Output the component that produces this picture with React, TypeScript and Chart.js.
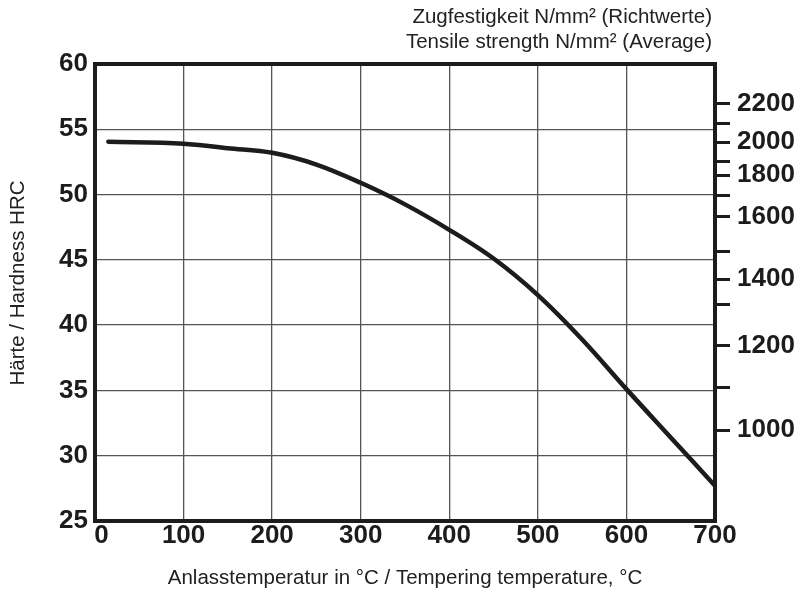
import React, { useEffect, useRef } from "react";
import { Chart, registerables } from "chart.js";

Chart.register(...registerables);

// Tempering temperature (°C) and hardness (HRC)
const temperatures = [15, 100, 150, 200, 250, 300, 350, 400, 450, 500, 550, 600, 650, 700];
const hardness = [54.05, 53.9, 53.55, 53.2, 52.3, 50.9, 49.25, 47.3, 45.1, 42.3, 38.9, 35.1, 31.4, 27.7];

// x axis ticks
const xTicks = [0, 100, 200, 300, 400, 500, 600, 700];
// left axis ticks (HRC)
const hrcTicks = [25, 30, 35, 40, 45, 50, 55, 60];

// right axis: tensile strength N/mm² and its position on the HRC scale
const tensileValues = [2200, 2100, 2000, 1900, 1800, 1700, 1600, 1500, 1400, 1300, 1200, 1100, 1000];
const tensileAtHrc = [56.95, 55.48, 54.01, 52.5, 51.48, 49.93, 48.3, 45.61, 43.53, 41.55, 38.44, 35.19, 31.96];
const tensileLabelled = [2200, 2000, 1800, 1600, 1400, 1200, 1000];

const titleTop1 = "Zugfestigkeit N/mm\u00B2 (Richtwerte)";
const titleTop2 = "Tensile strength N/mm\u00B2 (Average)";
const titleLeft = "H\u00E4rte / Hardness HRC";
const titleBottom = "Anlasstemperatur in \u00B0C / Tempering temperature, \u00B0C";

const FONT = '"Liberation Sans", Arial, sans-serif';
const DARK = "#1c1c1c";
const TICK_FONT = { family: FONT, size: 26, weight: "bold", lineHeight: 1.0 };

export default function App() {
  const ref = useRef<HTMLCanvasElement | null>(null);

  useEffect(() => {
    document.body.style.margin = "0";
    const canvas = ref.current!;
    const titlesPlugin = {
      id: "titles",
      afterDraw(chart: any) {
        const ctx = chart.ctx;
        const ca = chart.chartArea;
        ctx.save();
        // frame
        ctx.strokeStyle = DARK;
        ctx.lineWidth = 4;
        ctx.strokeRect(ca.left, ca.top, ca.right - ca.left, ca.bottom - ca.top);
        ctx.fillStyle = "#222";
        ctx.font = `20.5px ${FONT}`;
        ctx.textBaseline = "middle";
        ctx.textAlign = "right";
        ctx.fillText(titleTop1, 712, 17);
        ctx.fillText(titleTop2, 712, 42);
        ctx.textAlign = "center";
        ctx.fillText(titleBottom, 405, 578);
        ctx.translate(18, 283);
        ctx.rotate(-Math.PI / 2);
        ctx.fillText(titleLeft, 0, 0);
        ctx.restore();
      },
    };

    const chart = new Chart(canvas, {
      type: "line",
      data: {
        datasets: [
          {
            data: temperatures.map((t, i) => ({ x: t, y: hardness[i] })),
            borderColor: DARK,
            borderWidth: 4.5,
            borderCapStyle: "round",
            borderJoinStyle: "round",
            pointRadius: 0,
            tension: 0.35,
            yAxisID: "y",
          },
        ],
      },
      options: {
        animation: false,
        responsive: false,
        devicePixelRatio: 1,
        layout: { padding: { top: 64, left: 0, right: 0, bottom: 0 } },
        plugins: { legend: { display: false }, tooltip: { enabled: false } },
        scales: {
          x: {
            type: "linear",
            min: 0,
            max: 700,
            afterFit: (s: any) => {
              s.height = 72;
            },
            afterBuildTicks: (s: any) => {
              s.ticks = xTicks.map((v) => ({ value: v }));
            },
            grid: { color: "#555", lineWidth: 1.3, drawTicks: false },
            border: { color: DARK, width: 4 },
            ticks: {
              color: DARK,
              font: TICK_FONT,
              padding: 2,
              maxRotation: 0,
              callback: (v: any) => (v === 0 ? "\u20020" : String(v)),
            },
          },
          y: {
            type: "linear",
            position: "left",
            min: 25,
            max: 60,
            afterFit: (s: any) => {
              s.width = 95;
            },
            afterBuildTicks: (s: any) => {
              s.ticks = hrcTicks.map((v) => ({ value: v }));
            },
            grid: { color: "#555", lineWidth: 1.3, drawTicks: false },
            border: { color: DARK, width: 4 },
            ticks: {
              color: DARK,
              font: TICK_FONT,
              padding: 7,
            },
          },
          y2: {
            type: "linear",
            position: "right",
            min: 25,
            max: 60,
            afterFit: (s: any) => {
              s.width = 85;
            },
            afterBuildTicks: (s: any) => {
              s.ticks = tensileAtHrc.map((v) => ({ value: v }));
            },
            grid: {
              drawOnChartArea: false,
              drawTicks: true,
              tickLength: 15,
              color: DARK,
              lineWidth: 3,
            },
            border: { color: DARK, width: 4 },
            ticks: {
              color: DARK,
              font: TICK_FONT,
              padding: 7,
              autoSkip: false,
              callback: (_v: any, i: number) => {
                const t = tensileValues[i];
                return tensileLabelled.includes(t) ? String(t) : "";
              },
            },
          },
        },
      },
      plugins: [titlesPlugin],
    } as any);
    return () => chart.destroy();
  }, []);

  return (
    <div style={{ position: "fixed", left: 0, top: 0, width: 800, height: 593, background: "#fff" }}>
      <canvas ref={ref} width={800} height={593} style={{ width: 800, height: 593 }} />
    </div>
  );
}
